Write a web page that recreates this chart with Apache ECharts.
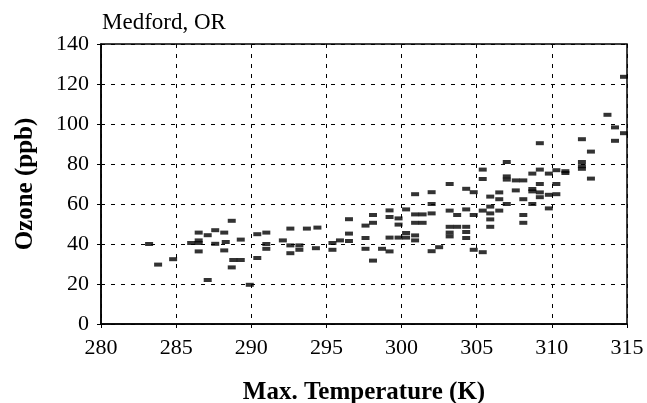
<!DOCTYPE html>
<html><head><meta charset="utf-8">
<script src="https://cdn.jsdelivr.net/npm/echarts@6/dist/echarts.min.js"></script>
<style>html,body{margin:0;padding:0;background:#fff}#c{width:647px;height:403px}</style>
</head><body><div id="c"></div>
<script>
const temps = [283.2,283.8,284.8,286.0,286.5,286.5,286.5,286.5,287.1,287.1,287.6,287.6,288.2,288.2,288.3,288.7,288.7,288.8,289.3,289.3,
289.9,290.4,290.4,291.0,291.0,291.0,292.1,292.6,292.6,292.6,293.2,293.2,293.7,294.4,294.3,295.4,295.4,295.9,296.5,296.5,296.5,
297.6,297.6,297.6,298.1,298.1,298.1,298.7,299.2,299.2,299.2,299.2,299.8,299.8,299.8,300.3,300.3,300.3,
300.9,300.9,300.9,300.9,300.9,301.4,301.4,302.0,302.0,302.0,302.0,302.5,
303.2,303.2,303.2,303.2,303.2,303.7,303.7,304.3,304.3,304.3,304.3,304.3,304.8,304.8,304.8,
305.4,305.4,305.4,305.4,305.9,305.9,305.9,305.9,305.9,306.5,306.5,306.5,
307.0,307.0,307.0,307.0,307.6,307.6,308.1,308.1,308.1,308.1,308.7,308.7,308.7,308.7,
309.2,309.2,309.2,309.2,309.2,309.8,309.8,309.8,310.3,310.3,310.3,310.9,310.9,
312.0,312.0,312.0,312.0,312.6,312.6,313.7,314.2,314.2,314.8,314.8];
const ozone = [40,29.7,32.4,40.5,41.8,45.7,36.3,40.5,44.4,22,46.9,40.1,45.7,36.8,41,51.6,28.3,32,32,42.2,
19.6,33,44.9,45.7,37.6,40,41.8,47.7,39.3,35.4,39.3,37.1,47.7,48.2,37.9,40.5,37.1,41.8,41.5,45.2,52.4,
49.2,43,37.6,54.5,50.6,31.7,37.6,56.8,53.5,43.2,36.3,43.2,52.8,49.7,57.3,43.2,45.5,
64.9,54.8,50.6,44.3,41.8,54.8,50.6,65.9,60,55.3,36.4,38.4,
70,56.7,48.6,45.7,43.8,54.5,48.6,67.6,57.3,48.6,46,43,65.9,54.5,37.1,
35.9,56.7,77.2,72.5,63.7,58.7,55.3,52.3,48.6,65.8,62.4,56.7,
81,73.8,72.2,60,71.8,66.8,71.8,62.4,54.5,50.6,75.2,67.5,66.3,60,
90.4,77.2,70,65.8,63.4,75.2,57.8,64.6,70,64.9,76.9,76.4,75.5,
92.4,81,78.9,77.6,86.2,72.7,104.6,98.3,91.6,123.6,95.4];
const xTicks = [280,285,290,295,300,305,310,315];
const yTicks = [0,20,40,60,80,100,120,140];
const title = "Medford, OR";

const data = temps.map((t,i)=>[t, ozone[i]]);
const serif = "'Liberation Serif','Times New Roman',serif";
const chart = echarts.init(document.getElementById('c'));
chart.setOption({
  animation:false,
  backgroundColor:'#fff',
  title:{text:title,left:97,top:6,textStyle:{fontFamily:serif,fontSize:23,fontWeight:'normal',color:'#000'}},
  grid:{left:101,right:20,top:44,bottom:79,show:true,borderColor:'#000',borderWidth:1.5,
    containLabel:false,outerBoundsMode:'none'},
  xAxis:{type:'value',min:280,max:315,interval:5,
    name:'Max. Temperature (K)',nameLocation:'middle',nameGap:56,
    nameTextStyle:{fontFamily:serif,fontSize:25,fontWeight:'bold',color:'#000'},
    axisLine:{lineStyle:{color:'#000',width:1.5}},
    axisTick:{show:true,length:4,inside:false,lineStyle:{color:'#000'}},
    axisLabel:{fontFamily:serif,fontSize:22,color:'#000',margin:13},
    splitLine:{show:true,lineStyle:{color:'#000',type:[4,6],width:1}}},
  yAxis:{type:'value',min:0,max:140,interval:20,
    name:'Ozone (ppb)',nameLocation:'middle',nameGap:63,
    nameTextStyle:{fontFamily:serif,fontSize:25,fontWeight:'bold',color:'#000'},
    axisLine:{show:true,lineStyle:{color:'#000',width:1.5}},
    axisTick:{show:true,length:4,lineStyle:{color:'#000'}},
    axisLabel:{fontFamily:serif,fontSize:22,color:'#000',margin:12},
    splitLine:{show:true,lineStyle:{color:'#000',type:[4,6],width:1}}},
  series:[{type:'scatter',data:data,symbol:'rect',symbolSize:[8,4],
    itemStyle:{color:'#000'}}]
});
</script></body></html>
